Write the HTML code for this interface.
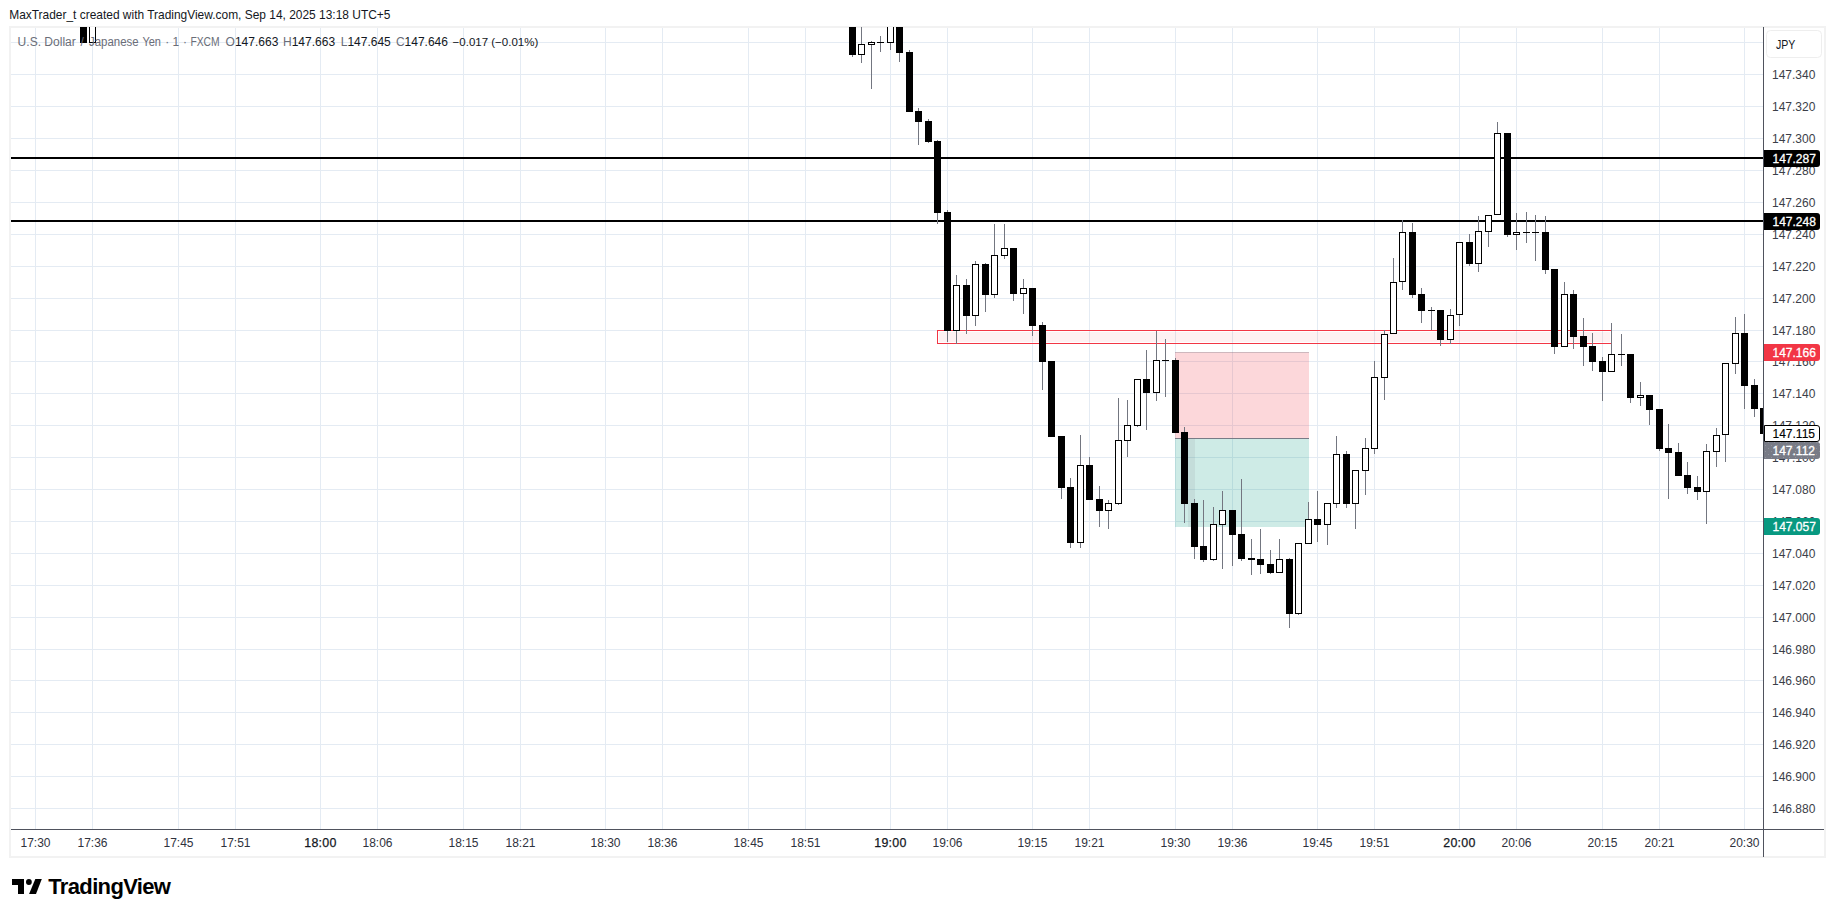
<!DOCTYPE html>
<html><head><meta charset="utf-8"><title>USDJPY chart</title>
<style>
html,body{margin:0;padding:0;background:#ffffff;}
body{width:1835px;height:917px;overflow:hidden;position:relative;font-family:"Liberation Sans",sans-serif;}
svg{position:absolute;left:0;top:0;}
.t{font-family:"Liberation Sans",sans-serif;}
</style></head><body>
<svg width="1835" height="917" viewBox="0 0 1835 917">
<defs>
<clipPath id="pane"><rect x="11" y="27" width="1752" height="802"/></clipPath>
<pattern id="dots" width="6" height="6" patternUnits="userSpaceOnUse"><rect x="1" y="1" width="1" height="1" fill="#8f929b"/><rect x="4" y="4" width="1" height="1" fill="#8f929b"/></pattern>
</defs>

<g fill="#f2f2f2" shape-rendering="crispEdges">
<rect x="9" y="26" width="1817" height="2"/>
<rect x="9" y="856" width="1817" height="2"/>
<rect x="9" y="26" width="2" height="832"/>
<rect x="1824" y="26" width="2" height="832"/>
</g>
<g fill="#e4ebf3" shape-rendering="crispEdges" clip-path="url(#pane)">
<rect x="35" y="28" width="1" height="801"/>
<rect x="92" y="28" width="1" height="801"/>
<rect x="178" y="28" width="1" height="801"/>
<rect x="235" y="28" width="1" height="801"/>
<rect x="320" y="28" width="1" height="801"/>
<rect x="377" y="28" width="1" height="801"/>
<rect x="463" y="28" width="1" height="801"/>
<rect x="520" y="28" width="1" height="801"/>
<rect x="605" y="28" width="1" height="801"/>
<rect x="662" y="28" width="1" height="801"/>
<rect x="748" y="28" width="1" height="801"/>
<rect x="805" y="28" width="1" height="801"/>
<rect x="890" y="28" width="1" height="801"/>
<rect x="947" y="28" width="1" height="801"/>
<rect x="1032" y="28" width="1" height="801"/>
<rect x="1089" y="28" width="1" height="801"/>
<rect x="1175" y="28" width="1" height="801"/>
<rect x="1232" y="28" width="1" height="801"/>
<rect x="1317" y="28" width="1" height="801"/>
<rect x="1374" y="28" width="1" height="801"/>
<rect x="1459" y="28" width="1" height="801"/>
<rect x="1516" y="28" width="1" height="801"/>
<rect x="1602" y="28" width="1" height="801"/>
<rect x="1659" y="28" width="1" height="801"/>
<rect x="1744" y="28" width="1" height="801"/>
<rect x="11" y="42" width="1752" height="1"/>
<rect x="11" y="74" width="1752" height="1"/>
<rect x="11" y="106" width="1752" height="1"/>
<rect x="11" y="138" width="1752" height="1"/>
<rect x="11" y="170" width="1752" height="1"/>
<rect x="11" y="202" width="1752" height="1"/>
<rect x="11" y="234" width="1752" height="1"/>
<rect x="11" y="266" width="1752" height="1"/>
<rect x="11" y="298" width="1752" height="1"/>
<rect x="11" y="330" width="1752" height="1"/>
<rect x="11" y="361" width="1752" height="1"/>
<rect x="11" y="393" width="1752" height="1"/>
<rect x="11" y="425" width="1752" height="1"/>
<rect x="11" y="457" width="1752" height="1"/>
<rect x="11" y="489" width="1752" height="1"/>
<rect x="11" y="521" width="1752" height="1"/>
<rect x="11" y="553" width="1752" height="1"/>
<rect x="11" y="585" width="1752" height="1"/>
<rect x="11" y="617" width="1752" height="1"/>
<rect x="11" y="649" width="1752" height="1"/>
<rect x="11" y="680" width="1752" height="1"/>
<rect x="11" y="712" width="1752" height="1"/>
<rect x="11" y="744" width="1752" height="1"/>
<rect x="11" y="776" width="1752" height="1"/>
<rect x="11" y="808" width="1752" height="1"/>
</g>
<g fill="#000" shape-rendering="crispEdges">
<rect x="11" y="157" width="1752" height="2"/>
<rect x="11" y="220" width="1752" height="2"/>
</g>
<g shape-rendering="crispEdges">
<rect x="939" y="332" width="671" height="10" fill="rgba(242,54,69,0.07)"/>
<rect x="937" y="330" width="675" height="1" fill="#f23645"/>
<rect x="937" y="343" width="675" height="1" fill="#f23645"/>
<rect x="937" y="330" width="1" height="14" fill="#f23645"/>
<rect x="1611" y="330" width="1" height="14" fill="#f23645"/>
</g>
<g shape-rendering="crispEdges">
<rect x="1175" y="352" width="134" height="86" fill="rgba(242,54,69,0.2)"/>
<rect x="1175" y="439" width="134" height="88" fill="rgba(8,153,129,0.2)"/>
<rect x="1188" y="439" width="7" height="88" fill="rgba(120,123,134,0.12)"/>
<rect x="1175" y="438" width="134" height="1" fill="#787b86"/>
<rect x="1175" y="352" width="134" height="1" fill="rgba(120,123,134,0.35)"/>
</g>
<g clip-path="url(#pane)" shape-rendering="crispEdges">
<rect x="80" y="20" width="7" height="23" fill="#000"/>
<rect x="89" y="20" width="7" height="23" fill="#000"/>
<rect x="90" y="21" width="5" height="21" fill="#fff"/>
<rect x="852" y="55" width="1" height="2" fill="#737680"/>
<rect x="849" y="20" width="7" height="35" fill="#000"/>
<rect x="861" y="20" width="1" height="24" fill="#737680"/>
<rect x="861" y="55" width="1" height="8" fill="#737680"/>
<rect x="858" y="44" width="7" height="11" fill="#000"/>
<rect x="859" y="45" width="5" height="9" fill="#fff"/>
<rect x="871" y="41" width="1" height="1" fill="#737680"/>
<rect x="871" y="45" width="1" height="44" fill="#737680"/>
<rect x="868" y="42" width="7" height="3" fill="#000"/>
<rect x="869" y="43" width="5" height="1" fill="#fff"/>
<rect x="880" y="36" width="1" height="6" fill="#737680"/>
<rect x="880" y="43" width="1" height="9" fill="#737680"/>
<rect x="877" y="42" width="7" height="1" fill="#000"/>
<rect x="890" y="43" width="1" height="7" fill="#737680"/>
<rect x="887" y="20" width="7" height="23" fill="#000"/>
<rect x="888" y="21" width="5" height="21" fill="#fff"/>
<rect x="899" y="53" width="1" height="9" fill="#737680"/>
<rect x="896" y="20" width="7" height="33" fill="#000"/>
<rect x="909" y="50" width="1" height="2" fill="#737680"/>
<rect x="906" y="52" width="7" height="60" fill="#000"/>
<rect x="918" y="108" width="1" height="3" fill="#737680"/>
<rect x="918" y="122" width="1" height="23" fill="#737680"/>
<rect x="915" y="111" width="7" height="11" fill="#000"/>
<rect x="928" y="119" width="1" height="2" fill="#737680"/>
<rect x="928" y="142" width="1" height="1" fill="#737680"/>
<rect x="925" y="121" width="7" height="21" fill="#000"/>
<rect x="937" y="140" width="1" height="1" fill="#737680"/>
<rect x="937" y="213" width="1" height="11" fill="#737680"/>
<rect x="934" y="141" width="7" height="72" fill="#000"/>
<rect x="947" y="210" width="1" height="2" fill="#737680"/>
<rect x="947" y="331" width="1" height="11" fill="#737680"/>
<rect x="944" y="212" width="7" height="119" fill="#000"/>
<rect x="956" y="275" width="1" height="10" fill="#737680"/>
<rect x="956" y="331" width="1" height="13" fill="#737680"/>
<rect x="953" y="285" width="7" height="46" fill="#000"/>
<rect x="954" y="286" width="5" height="44" fill="#fff"/>
<rect x="966" y="279" width="1" height="6" fill="#737680"/>
<rect x="966" y="316" width="1" height="18" fill="#737680"/>
<rect x="963" y="285" width="7" height="31" fill="#000"/>
<rect x="975" y="261" width="1" height="3" fill="#737680"/>
<rect x="975" y="316" width="1" height="10" fill="#737680"/>
<rect x="972" y="264" width="7" height="52" fill="#000"/>
<rect x="973" y="265" width="5" height="50" fill="#fff"/>
<rect x="985" y="263" width="1" height="1" fill="#737680"/>
<rect x="985" y="295" width="1" height="17" fill="#737680"/>
<rect x="982" y="264" width="7" height="31" fill="#000"/>
<rect x="994" y="224" width="1" height="31" fill="#737680"/>
<rect x="994" y="295" width="1" height="3" fill="#737680"/>
<rect x="991" y="255" width="7" height="40" fill="#000"/>
<rect x="992" y="256" width="5" height="38" fill="#fff"/>
<rect x="1004" y="224" width="1" height="24" fill="#737680"/>
<rect x="1004" y="256" width="1" height="3" fill="#737680"/>
<rect x="1001" y="248" width="7" height="8" fill="#000"/>
<rect x="1002" y="249" width="5" height="6" fill="#fff"/>
<rect x="1013" y="294" width="1" height="7" fill="#737680"/>
<rect x="1010" y="248" width="7" height="46" fill="#000"/>
<rect x="1023" y="279" width="1" height="9" fill="#737680"/>
<rect x="1023" y="294" width="1" height="20" fill="#737680"/>
<rect x="1020" y="288" width="7" height="6" fill="#000"/>
<rect x="1021" y="289" width="5" height="4" fill="#fff"/>
<rect x="1032" y="326" width="1" height="10" fill="#737680"/>
<rect x="1029" y="288" width="7" height="38" fill="#000"/>
<rect x="1042" y="322" width="1" height="3" fill="#737680"/>
<rect x="1042" y="362" width="1" height="28" fill="#737680"/>
<rect x="1039" y="325" width="7" height="37" fill="#000"/>
<rect x="1048" y="361" width="7" height="76" fill="#000"/>
<rect x="1061" y="488" width="1" height="11" fill="#737680"/>
<rect x="1058" y="436" width="7" height="52" fill="#000"/>
<rect x="1070" y="478" width="1" height="9" fill="#737680"/>
<rect x="1070" y="543" width="1" height="5" fill="#737680"/>
<rect x="1067" y="487" width="7" height="56" fill="#000"/>
<rect x="1080" y="435" width="1" height="30" fill="#737680"/>
<rect x="1080" y="543" width="1" height="5" fill="#737680"/>
<rect x="1077" y="465" width="7" height="78" fill="#000"/>
<rect x="1078" y="466" width="5" height="76" fill="#fff"/>
<rect x="1089" y="457" width="1" height="8" fill="#737680"/>
<rect x="1086" y="465" width="7" height="35" fill="#000"/>
<rect x="1099" y="486" width="1" height="13" fill="#737680"/>
<rect x="1099" y="511" width="1" height="16" fill="#737680"/>
<rect x="1096" y="499" width="7" height="12" fill="#000"/>
<rect x="1108" y="500" width="1" height="3" fill="#737680"/>
<rect x="1108" y="511" width="1" height="18" fill="#737680"/>
<rect x="1105" y="503" width="7" height="8" fill="#000"/>
<rect x="1106" y="504" width="5" height="6" fill="#fff"/>
<rect x="1118" y="398" width="1" height="42" fill="#737680"/>
<rect x="1118" y="504" width="1" height="1" fill="#737680"/>
<rect x="1115" y="440" width="7" height="64" fill="#000"/>
<rect x="1116" y="441" width="5" height="62" fill="#fff"/>
<rect x="1127" y="400" width="1" height="25" fill="#737680"/>
<rect x="1127" y="441" width="1" height="16" fill="#737680"/>
<rect x="1124" y="425" width="7" height="16" fill="#000"/>
<rect x="1125" y="426" width="5" height="14" fill="#fff"/>
<rect x="1137" y="426" width="1" height="1" fill="#737680"/>
<rect x="1134" y="379" width="7" height="47" fill="#000"/>
<rect x="1135" y="380" width="5" height="45" fill="#fff"/>
<rect x="1146" y="350" width="1" height="29" fill="#737680"/>
<rect x="1146" y="393" width="1" height="37" fill="#737680"/>
<rect x="1143" y="379" width="7" height="14" fill="#000"/>
<rect x="1156" y="331" width="1" height="29" fill="#737680"/>
<rect x="1156" y="393" width="1" height="8" fill="#737680"/>
<rect x="1153" y="360" width="7" height="33" fill="#000"/>
<rect x="1154" y="361" width="5" height="31" fill="#fff"/>
<rect x="1165" y="339" width="1" height="21" fill="#737680"/>
<rect x="1165" y="361" width="1" height="36" fill="#737680"/>
<rect x="1162" y="360" width="7" height="1" fill="#000"/>
<rect x="1175" y="358" width="1" height="2" fill="#737680"/>
<rect x="1172" y="360" width="7" height="73" fill="#000"/>
<rect x="1184" y="427" width="1" height="5" fill="#737680"/>
<rect x="1184" y="504" width="1" height="19" fill="#737680"/>
<rect x="1181" y="432" width="7" height="72" fill="#000"/>
<rect x="1194" y="499" width="1" height="4" fill="#737680"/>
<rect x="1194" y="547" width="1" height="12" fill="#737680"/>
<rect x="1191" y="503" width="7" height="44" fill="#000"/>
<rect x="1203" y="500" width="1" height="46" fill="#737680"/>
<rect x="1203" y="560" width="1" height="2" fill="#737680"/>
<rect x="1200" y="546" width="7" height="14" fill="#000"/>
<rect x="1213" y="507" width="1" height="17" fill="#737680"/>
<rect x="1213" y="560" width="1" height="1" fill="#737680"/>
<rect x="1210" y="524" width="7" height="36" fill="#000"/>
<rect x="1211" y="525" width="5" height="34" fill="#fff"/>
<rect x="1222" y="491" width="1" height="19" fill="#737680"/>
<rect x="1222" y="525" width="1" height="44" fill="#737680"/>
<rect x="1219" y="510" width="7" height="15" fill="#000"/>
<rect x="1220" y="511" width="5" height="13" fill="#fff"/>
<rect x="1232" y="535" width="1" height="31" fill="#737680"/>
<rect x="1229" y="510" width="7" height="25" fill="#000"/>
<rect x="1241" y="479" width="1" height="55" fill="#737680"/>
<rect x="1241" y="559" width="1" height="2" fill="#737680"/>
<rect x="1238" y="534" width="7" height="25" fill="#000"/>
<rect x="1251" y="539" width="1" height="19" fill="#737680"/>
<rect x="1251" y="560" width="1" height="15" fill="#737680"/>
<rect x="1248" y="558" width="7" height="2" fill="#000"/>
<rect x="1260" y="529" width="1" height="30" fill="#737680"/>
<rect x="1260" y="565" width="1" height="9" fill="#737680"/>
<rect x="1257" y="559" width="7" height="6" fill="#000"/>
<rect x="1270" y="550" width="1" height="14" fill="#737680"/>
<rect x="1270" y="573" width="1" height="1" fill="#737680"/>
<rect x="1267" y="564" width="7" height="9" fill="#000"/>
<rect x="1279" y="539" width="1" height="20" fill="#737680"/>
<rect x="1276" y="559" width="7" height="14" fill="#000"/>
<rect x="1277" y="560" width="5" height="12" fill="#fff"/>
<rect x="1289" y="558" width="1" height="1" fill="#737680"/>
<rect x="1289" y="614" width="1" height="14" fill="#737680"/>
<rect x="1286" y="559" width="7" height="55" fill="#000"/>
<rect x="1298" y="614" width="1" height="1" fill="#737680"/>
<rect x="1295" y="543" width="7" height="71" fill="#000"/>
<rect x="1296" y="544" width="5" height="69" fill="#fff"/>
<rect x="1308" y="502" width="1" height="17" fill="#737680"/>
<rect x="1305" y="519" width="7" height="25" fill="#000"/>
<rect x="1306" y="520" width="5" height="23" fill="#fff"/>
<rect x="1317" y="491" width="1" height="28" fill="#737680"/>
<rect x="1317" y="525" width="1" height="17" fill="#737680"/>
<rect x="1314" y="519" width="7" height="6" fill="#000"/>
<rect x="1327" y="525" width="1" height="20" fill="#737680"/>
<rect x="1324" y="503" width="7" height="22" fill="#000"/>
<rect x="1325" y="504" width="5" height="20" fill="#fff"/>
<rect x="1336" y="436" width="1" height="18" fill="#737680"/>
<rect x="1336" y="504" width="1" height="4" fill="#737680"/>
<rect x="1333" y="454" width="7" height="50" fill="#000"/>
<rect x="1334" y="455" width="5" height="48" fill="#fff"/>
<rect x="1346" y="451" width="1" height="3" fill="#737680"/>
<rect x="1346" y="504" width="1" height="4" fill="#737680"/>
<rect x="1343" y="454" width="7" height="50" fill="#000"/>
<rect x="1355" y="504" width="1" height="25" fill="#737680"/>
<rect x="1352" y="470" width="7" height="34" fill="#000"/>
<rect x="1353" y="471" width="5" height="32" fill="#fff"/>
<rect x="1365" y="438" width="1" height="10" fill="#737680"/>
<rect x="1365" y="471" width="1" height="24" fill="#737680"/>
<rect x="1362" y="448" width="7" height="23" fill="#000"/>
<rect x="1363" y="449" width="5" height="21" fill="#fff"/>
<rect x="1374" y="361" width="1" height="16" fill="#737680"/>
<rect x="1374" y="449" width="1" height="5" fill="#737680"/>
<rect x="1371" y="377" width="7" height="72" fill="#000"/>
<rect x="1372" y="378" width="5" height="70" fill="#fff"/>
<rect x="1384" y="330" width="1" height="4" fill="#737680"/>
<rect x="1384" y="378" width="1" height="22" fill="#737680"/>
<rect x="1381" y="334" width="7" height="44" fill="#000"/>
<rect x="1382" y="335" width="5" height="42" fill="#fff"/>
<rect x="1393" y="258" width="1" height="24" fill="#737680"/>
<rect x="1390" y="282" width="7" height="52" fill="#000"/>
<rect x="1391" y="283" width="5" height="50" fill="#fff"/>
<rect x="1402" y="220" width="1" height="12" fill="#737680"/>
<rect x="1402" y="282" width="1" height="8" fill="#737680"/>
<rect x="1399" y="232" width="7" height="50" fill="#000"/>
<rect x="1400" y="233" width="5" height="48" fill="#fff"/>
<rect x="1412" y="223" width="1" height="9" fill="#737680"/>
<rect x="1412" y="295" width="1" height="3" fill="#737680"/>
<rect x="1409" y="232" width="7" height="63" fill="#000"/>
<rect x="1421" y="288" width="1" height="6" fill="#737680"/>
<rect x="1421" y="311" width="1" height="12" fill="#737680"/>
<rect x="1418" y="294" width="7" height="17" fill="#000"/>
<rect x="1431" y="307" width="1" height="3" fill="#737680"/>
<rect x="1431" y="311" width="1" height="19" fill="#737680"/>
<rect x="1428" y="310" width="7" height="1" fill="#000"/>
<rect x="1440" y="340" width="1" height="6" fill="#737680"/>
<rect x="1437" y="310" width="7" height="30" fill="#000"/>
<rect x="1450" y="309" width="1" height="6" fill="#737680"/>
<rect x="1450" y="340" width="1" height="4" fill="#737680"/>
<rect x="1447" y="315" width="7" height="25" fill="#000"/>
<rect x="1448" y="316" width="5" height="23" fill="#fff"/>
<rect x="1459" y="315" width="1" height="11" fill="#737680"/>
<rect x="1456" y="242" width="7" height="73" fill="#000"/>
<rect x="1457" y="243" width="5" height="71" fill="#fff"/>
<rect x="1469" y="234" width="1" height="8" fill="#737680"/>
<rect x="1469" y="264" width="1" height="2" fill="#737680"/>
<rect x="1466" y="242" width="7" height="22" fill="#000"/>
<rect x="1478" y="216" width="1" height="15" fill="#737680"/>
<rect x="1478" y="264" width="1" height="8" fill="#737680"/>
<rect x="1475" y="231" width="7" height="33" fill="#000"/>
<rect x="1476" y="232" width="5" height="31" fill="#fff"/>
<rect x="1488" y="232" width="1" height="15" fill="#737680"/>
<rect x="1485" y="215" width="7" height="17" fill="#000"/>
<rect x="1486" y="216" width="5" height="15" fill="#fff"/>
<rect x="1497" y="122" width="1" height="11" fill="#737680"/>
<rect x="1494" y="133" width="7" height="82" fill="#000"/>
<rect x="1495" y="134" width="5" height="80" fill="#fff"/>
<rect x="1507" y="235" width="1" height="2" fill="#737680"/>
<rect x="1504" y="133" width="7" height="102" fill="#000"/>
<rect x="1516" y="213" width="1" height="19" fill="#737680"/>
<rect x="1516" y="235" width="1" height="15" fill="#737680"/>
<rect x="1513" y="232" width="7" height="3" fill="#000"/>
<rect x="1514" y="233" width="5" height="1" fill="#fff"/>
<rect x="1526" y="212" width="1" height="20" fill="#737680"/>
<rect x="1526" y="233" width="1" height="10" fill="#737680"/>
<rect x="1523" y="232" width="7" height="1" fill="#000"/>
<rect x="1535" y="215" width="1" height="17" fill="#737680"/>
<rect x="1535" y="233" width="1" height="28" fill="#737680"/>
<rect x="1532" y="232" width="7" height="1" fill="#000"/>
<rect x="1545" y="216" width="1" height="16" fill="#737680"/>
<rect x="1545" y="270" width="1" height="4" fill="#737680"/>
<rect x="1542" y="232" width="7" height="38" fill="#000"/>
<rect x="1554" y="347" width="1" height="7" fill="#737680"/>
<rect x="1551" y="269" width="7" height="78" fill="#000"/>
<rect x="1564" y="282" width="1" height="12" fill="#737680"/>
<rect x="1561" y="294" width="7" height="53" fill="#000"/>
<rect x="1562" y="295" width="5" height="51" fill="#fff"/>
<rect x="1573" y="290" width="1" height="4" fill="#737680"/>
<rect x="1573" y="337" width="1" height="12" fill="#737680"/>
<rect x="1570" y="294" width="7" height="43" fill="#000"/>
<rect x="1583" y="318" width="1" height="18" fill="#737680"/>
<rect x="1583" y="347" width="1" height="19" fill="#737680"/>
<rect x="1580" y="336" width="7" height="11" fill="#000"/>
<rect x="1592" y="333" width="1" height="13" fill="#737680"/>
<rect x="1592" y="362" width="1" height="9" fill="#737680"/>
<rect x="1589" y="346" width="7" height="16" fill="#000"/>
<rect x="1602" y="357" width="1" height="4" fill="#737680"/>
<rect x="1602" y="372" width="1" height="29" fill="#737680"/>
<rect x="1599" y="361" width="7" height="11" fill="#000"/>
<rect x="1611" y="323" width="1" height="31" fill="#737680"/>
<rect x="1608" y="354" width="7" height="18" fill="#000"/>
<rect x="1609" y="355" width="5" height="16" fill="#fff"/>
<rect x="1621" y="334" width="1" height="20" fill="#737680"/>
<rect x="1621" y="355" width="1" height="11" fill="#737680"/>
<rect x="1618" y="354" width="7" height="1" fill="#000"/>
<rect x="1630" y="398" width="1" height="5" fill="#737680"/>
<rect x="1627" y="354" width="7" height="44" fill="#000"/>
<rect x="1640" y="382" width="1" height="13" fill="#737680"/>
<rect x="1640" y="398" width="1" height="8" fill="#737680"/>
<rect x="1637" y="395" width="7" height="3" fill="#000"/>
<rect x="1638" y="396" width="5" height="1" fill="#fff"/>
<rect x="1649" y="410" width="1" height="15" fill="#737680"/>
<rect x="1646" y="395" width="7" height="15" fill="#000"/>
<rect x="1659" y="449" width="1" height="2" fill="#737680"/>
<rect x="1656" y="409" width="7" height="40" fill="#000"/>
<rect x="1668" y="424" width="1" height="24" fill="#737680"/>
<rect x="1668" y="453" width="1" height="46" fill="#737680"/>
<rect x="1665" y="448" width="7" height="5" fill="#000"/>
<rect x="1678" y="443" width="1" height="9" fill="#737680"/>
<rect x="1675" y="452" width="7" height="24" fill="#000"/>
<rect x="1687" y="462" width="1" height="13" fill="#737680"/>
<rect x="1687" y="488" width="1" height="6" fill="#737680"/>
<rect x="1684" y="475" width="7" height="13" fill="#000"/>
<rect x="1697" y="476" width="1" height="11" fill="#737680"/>
<rect x="1697" y="492" width="1" height="8" fill="#737680"/>
<rect x="1694" y="487" width="7" height="5" fill="#000"/>
<rect x="1706" y="444" width="1" height="7" fill="#737680"/>
<rect x="1706" y="492" width="1" height="32" fill="#737680"/>
<rect x="1703" y="451" width="7" height="41" fill="#000"/>
<rect x="1704" y="452" width="5" height="39" fill="#fff"/>
<rect x="1716" y="428" width="1" height="7" fill="#737680"/>
<rect x="1716" y="452" width="1" height="15" fill="#737680"/>
<rect x="1713" y="435" width="7" height="17" fill="#000"/>
<rect x="1714" y="436" width="5" height="15" fill="#fff"/>
<rect x="1725" y="435" width="1" height="27" fill="#737680"/>
<rect x="1722" y="363" width="7" height="72" fill="#000"/>
<rect x="1723" y="364" width="5" height="70" fill="#fff"/>
<rect x="1735" y="317" width="1" height="16" fill="#737680"/>
<rect x="1735" y="364" width="1" height="10" fill="#737680"/>
<rect x="1732" y="333" width="7" height="31" fill="#000"/>
<rect x="1733" y="334" width="5" height="29" fill="#fff"/>
<rect x="1744" y="314" width="1" height="19" fill="#737680"/>
<rect x="1744" y="386" width="1" height="23" fill="#737680"/>
<rect x="1741" y="333" width="7" height="53" fill="#000"/>
<rect x="1754" y="379" width="1" height="6" fill="#737680"/>
<rect x="1754" y="409" width="1" height="8" fill="#737680"/>
<rect x="1751" y="385" width="7" height="24" fill="#000"/>
<rect x="1760" y="408" width="7" height="26" fill="#000"/>
</g>
<g fill="#4f525d" shape-rendering="crispEdges">
<rect x="1763" y="27" width="1" height="830"/>
<rect x="11" y="829" width="1813" height="1"/>
</g>
<g class="t" font-size="12" fill="#3b3e48">
<text x="1772" y="78.8">147.340</text>
<text x="1772" y="110.8">147.320</text>
<text x="1772" y="142.8">147.300</text>
<text x="1772" y="174.8">147.280</text>
<text x="1772" y="206.8">147.260</text>
<text x="1772" y="238.8">147.240</text>
<text x="1772" y="270.8">147.220</text>
<text x="1772" y="302.8">147.200</text>
<text x="1772" y="334.8">147.180</text>
<text x="1772" y="365.8">147.160</text>
<text x="1772" y="397.8">147.140</text>
<text x="1772" y="429.8">147.120</text>
<text x="1772" y="461.8">147.100</text>
<text x="1772" y="493.8">147.080</text>
<text x="1772" y="525.8">147.060</text>
<text x="1772" y="557.8">147.040</text>
<text x="1772" y="589.8">147.020</text>
<text x="1772" y="621.8">147.000</text>
<text x="1772" y="653.8">146.980</text>
<text x="1772" y="684.8">146.960</text>
<text x="1772" y="716.8">146.940</text>
<text x="1772" y="748.8">146.920</text>
<text x="1772" y="780.8">146.900</text>
<text x="1772" y="812.8">146.880</text>
</g>
<rect x="1766.5" y="30.5" width="55" height="27" rx="4" ry="4" fill="#fff" stroke="#eeeeee" stroke-width="1"/>
<text class="t" x="1776" y="48.8" font-size="12" fill="#131722" textLength="19.4" lengthAdjust="spacingAndGlyphs">JPY</text>
<path d="M1764 150 H1817 Q1820 150 1820 153 V164 Q1820 167 1817 167 H1764 Z" fill="#000"/>
<text class="t" x="1772.5" y="163.0" font-size="12" fill="#fff" stroke="#fff" stroke-width="0.3">147.287</text>
<path d="M1764 213 H1817 Q1820 213 1820 216 V227 Q1820 230 1817 230 H1764 Z" fill="#000"/>
<text class="t" x="1772.5" y="226.0" font-size="12" fill="#fff" stroke="#fff" stroke-width="0.3">147.248</text>
<path d="M1764 344 H1817 Q1820 344 1820 347 V358 Q1820 361 1817 361 H1764 Z" fill="#f23645"/>
<text class="t" x="1772.5" y="357.0" font-size="12" fill="#fff" stroke="#fff" stroke-width="0.3">147.166</text>
<path d="M1764 442 H1817 Q1820 442 1820 445 V456 Q1820 459 1817 459 H1764 Z" fill="#787b86"/>
<path d="M1764 442 H1817 Q1820 442 1820 445 V456 Q1820 459 1817 459 H1764 Z" fill="url(#dots)"/>
<text class="t" x="1772.5" y="455.0" font-size="12" fill="#fff" stroke="#fff" stroke-width="0.3">147.112</text>
<path d="M1764.5 425.5 H1817 Q1819.5 425.5 1819.5 428 V439 Q1819.5 441.5 1817 441.5 H1764.5 Z" fill="#fff" stroke="#000" stroke-width="1"/>
<text class="t" x="1772.5" y="438" font-size="12" fill="#000" stroke="#000" stroke-width="0.15">147.115</text>
<path d="M1764 518 H1817 Q1820 518 1820 521 V532 Q1820 535 1817 535 H1764 Z" fill="#089981"/>
<text class="t" x="1772.5" y="531.0" font-size="12" fill="#fff" stroke="#fff" stroke-width="0.3">147.057</text>
<g class="t" font-size="12" fill="#2f323d" text-anchor="middle">
<text x="35.5" y="847.2">17:30</text>
<text x="92.5" y="847.2">17:36</text>
<text x="178.5" y="847.2">17:45</text>
<text x="235.5" y="847.2">17:51</text>
<text x="320.5" y="847.2" font-size="12.4" fill="#131722" stroke="#131722" stroke-width="0.25" letter-spacing="0.3">18:00</text>
<text x="377.5" y="847.2">18:06</text>
<text x="463.5" y="847.2">18:15</text>
<text x="520.5" y="847.2">18:21</text>
<text x="605.5" y="847.2">18:30</text>
<text x="662.5" y="847.2">18:36</text>
<text x="748.5" y="847.2">18:45</text>
<text x="805.5" y="847.2">18:51</text>
<text x="890.5" y="847.2" font-size="12.4" fill="#131722" stroke="#131722" stroke-width="0.25" letter-spacing="0.3">19:00</text>
<text x="947.5" y="847.2">19:06</text>
<text x="1032.5" y="847.2">19:15</text>
<text x="1089.5" y="847.2">19:21</text>
<text x="1175.5" y="847.2">19:30</text>
<text x="1232.5" y="847.2">19:36</text>
<text x="1317.5" y="847.2">19:45</text>
<text x="1374.5" y="847.2">19:51</text>
<text x="1459.5" y="847.2" font-size="12.4" fill="#131722" stroke="#131722" stroke-width="0.25" letter-spacing="0.3">20:00</text>
<text x="1516.5" y="847.2">20:06</text>
<text x="1602.5" y="847.2">20:15</text>
<text x="1659.5" y="847.2">20:21</text>
<text x="1744.5" y="847.2">20:30</text>
</g>
<text class="t" x="17.6" y="45.7" font-size="12" fill="#6a6d78" textLength="58.2" lengthAdjust="spacingAndGlyphs">U.S. Dollar</text>
<text class="t" x="80.6" y="45.7" font-size="12" fill="#6a6d78">/</text>
<text class="t" x="89.0" y="45.7" font-size="12" fill="#6a6d78" textLength="49.6" lengthAdjust="spacingAndGlyphs">Japanese</text>
<text class="t" x="142.4" y="45.7" font-size="12" fill="#6a6d78" textLength="18.6" lengthAdjust="spacingAndGlyphs">Yen</text>
<text class="t" x="165.2" y="45.7" font-size="12" fill="#6a6d78">·</text>
<text class="t" x="172.4" y="45.7" font-size="12" fill="#6a6d78">1</text>
<text class="t" x="183.1" y="45.7" font-size="12" fill="#6a6d78">·</text>
<text class="t" x="190.4" y="45.7" font-size="12" fill="#6a6d78" textLength="29.2" lengthAdjust="spacingAndGlyphs">FXCM</text>
<text class="t" x="225.6" y="45.7" font-size="12"><tspan fill="#6a6d78">O</tspan><tspan fill="#131722">147.663</tspan></text>
<text class="t" x="283.0" y="45.7" font-size="12"><tspan fill="#6a6d78">H</tspan><tspan fill="#131722">147.663</tspan></text>
<text class="t" x="340.7" y="45.7" font-size="12"><tspan fill="#6a6d78">L</tspan><tspan fill="#131722">147.645</tspan></text>
<text class="t" x="395.9" y="45.7" font-size="12"><tspan fill="#6a6d78">C</tspan><tspan fill="#131722">147.646</tspan></text>
<text class="t" x="452.6" y="45.7" font-size="11.5" fill="#131722">−0.017 (−0.01%)</text>
<text class="t" x="9.2" y="19.2" font-size="11.95" fill="#131722">MaxTrader_t created with TradingView.com, Sep 14, 2025 13:18 UTC+5</text>
<g fill="#000">
<path d="M12 879 H24 V894 H18 V885 H12 Z"/>
<circle cx="28.9" cy="882" r="2.9"/>
<path d="M35.3 879 H41.8 L36 894 H29.1 Z"/>
</g>
<text class="t" x="48.3" y="893.8" font-size="22" font-weight="bold" letter-spacing="-0.65" fill="#000">TradingView</text>
</svg>
</body></html>
